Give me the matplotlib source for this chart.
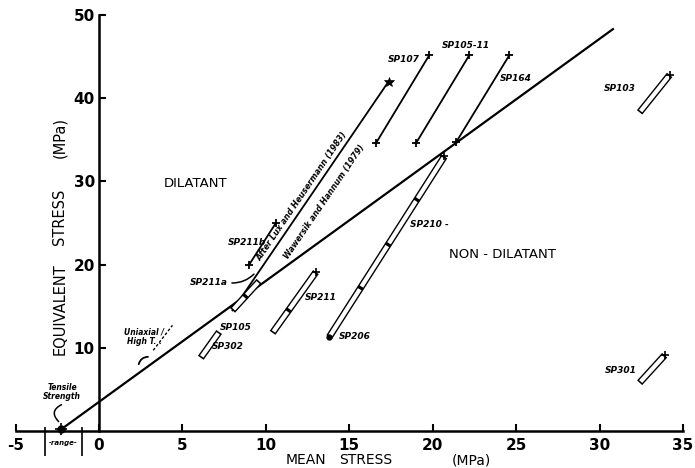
import numpy as np
import matplotlib
matplotlib.use('Agg')
import matplotlib.pyplot as plt

# ---------------- data ----------------
boundary_x = [-2.2, 30.8]
boundary_y = [0.3, 48.3]

# single test paths (start -> end)
path_names = ['SP107', 'SP105-11', 'SP164', 'SP211b', 'Lux & Heusermann']
path_x0 = [16.6, 19.0, 21.4, 9.0, 8.0]
path_y0 = [34.6, 34.6, 34.7, 20.0, 14.5]
path_x1 = [19.8, 22.2, 24.6, 10.6, 17.35]
path_y1 = [45.2, 45.2, 45.2, 25.0, 42.0]

# double-line (tube) paths
tube_names = ['SP103', 'SP301', 'SP211', 'SP206-SP210', 'SP105-SP302', 'Lux tube']
tube_x0 = [32.4, 32.4, 10.4, 13.8, 6.1, 8.0]
tube_y0 = [38.3, 5.8, 11.8, 11.3, 8.8, 14.5]
tube_x1 = [34.2, 33.9, 13.0, 20.7, 7.2, 9.6]
tube_y1 = [42.8, 9.1, 19.1, 33.0, 11.9, 18.0]
tube_seps = [[], [], [14.5], [17.2, 22.4, 27.8], [], [16.2]]

label_text = ['SP107', 'SP105-11', 'SP164', 'SP103', 'SP301', 'SP210 -', 'SP206',
              'SP211', 'SP211b', 'SP211a', 'SP105', 'SP302']
label_x = [18.25, 22.0, 25.0, 31.2, 31.25, 19.8, 15.3, 13.3, 8.85, 6.6, 8.2, 7.7]
label_y = [44.7, 46.3, 42.4, 41.2, 7.3, 24.8, 11.3, 16.1, 22.7, 17.8, 12.4, 10.1]

xticks = [-5, 0, 5, 10, 15, 20, 25, 30, 35]
yticks = [10, 20, 30, 40, 50]

tensile_x, tensile_y = -2.3, 0.25
range_lo, range_hi = -3.25, -1.0

# ---------------- figure ----------------
fig = plt.figure(figsize=(6.95, 4.68), dpi=100)
ax = fig.add_axes([15.6/695, 37/468, 667.4/695, 416/468])
ax.set_xlim(-5, 35)
ax.set_ylim(0, 50)

for s in ['top', 'right']:
    ax.spines[s].set_visible(False)
ax.spines['left'].set_position(('data', 0))
ax.spines['left'].set_linewidth(1.8)
ax.spines['bottom'].set_linewidth(1.8)

ax.set_xticks(xticks)
ax.set_xticklabels([str(v) for v in xticks], fontsize=11, fontweight='bold')
ax.set_yticks(yticks)
ax.set_yticklabels([str(v) for v in yticks], fontsize=11, fontweight='bold')
ax.tick_params(axis='x', direction='in', length=5, width=1.5, pad=5)
ax.tick_params(axis='y', direction='in', length=5, width=1.5, pad=3)

bi = dict(fontsize=6.5, fontweight='bold', fontstyle='italic', color='k')

# boundary line
ax.plot(boundary_x, boundary_y, color='k', lw=1.6)

# single paths
for x0, y0, x1, y1, nm in zip(path_x0, path_y0, path_x1, path_y1, path_names):
    ax.plot([x0, x1], [y0, y1], color='k', lw=1.3)
    if nm.startswith('Lux'):
        ax.plot([x1], [y1], marker='*', ms=7, color='k', mew=0.5)
    else:
        ax.plot([x0, x1], [y0, y1], ls='none', marker='+', ms=6, mew=1.3, color='k')


def tube(x0, y0, x1, y1, seps, outer=5.0, inner=3.0):
    ax.plot([x0, x1], [y0, y1], color='k', lw=outer, solid_capstyle='butt')
    p0 = ax.transData.transform((x0, y0))
    p1 = ax.transData.transform((x1, y1))
    L = np.hypot(*(p1 - p0))
    g = 1.6 / L
    ts = [0.0] + [(s - y0) / (y1 - y0) for s in seps] + [1.0]
    for a, b in zip(ts[:-1], ts[1:]):
        a2, b2 = a + g, b - g
        ax.plot([x0 + a2 * (x1 - x0), x0 + b2 * (x1 - x0)],
                [y0 + a2 * (y1 - y0), y0 + b2 * (y1 - y0)],
                color='white', lw=inner, solid_capstyle='butt')


for x0, y0, x1, y1, sp in zip(tube_x0, tube_y0, tube_x1, tube_y1, tube_seps):
    tube(x0, y0, x1, y1, sp)

# end markers for tubes
ax.plot([tube_x1[0], tube_x1[1], tube_x1[3], tube_x1[2]],
        [tube_y1[0], tube_y1[1], tube_y1[3], tube_y1[2]],
        ls='none', marker='+', ms=6, mew=1.2, color='k')
ax.plot([tube_x0[3]], [tube_y0[3]], marker='o', ms=3.5, color='k')

# SP211a curve
ax.annotate('', xy=(9.4, 19.1), xytext=(7.8, 17.8),
            arrowprops=dict(arrowstyle='-', color='k', lw=1.1,
                            connectionstyle='arc3,rad=0.25'))

# labels
for t, x, y in zip(label_text, label_x, label_y):
    ax.text(x, y, t, ha='center', va='center', **bi)

# rotated reference text along Lux line
p0 = ax.transData.transform((path_x0[4], path_y0[4]))
p1 = ax.transData.transform((path_x1[4], path_y1[4]))
ang = np.degrees(np.arctan2(p1[1] - p0[1], p1[0] - p0[0]))
xm, ym = 12.5, path_y0[4] + (12.5 - path_x0[4]) * (path_y1[4] - path_y0[4]) / (path_x1[4] - path_x0[4])
a = np.radians(ang)
for txt, d in [('After Lux and Heusermann (1983)', 4.5),
               ('Wawersik and Hannum (1979)', -6.0)]:
    ax.annotate(txt, xy=(xm + (0.6 if d < 0 else 0), ym + (0.4 if d < 0 else 0)),
                xytext=(-np.sin(a) * d, np.cos(a) * d), textcoords='offset points',
                rotation=ang, rotation_mode='anchor', ha='center', va='center',
                fontsize=5.8, fontweight='bold', fontstyle='italic')

# region texts
ax.text(5.8, 29.8, 'DILATANT', ha='center', va='center', fontsize=9.5)
ax.text(24.2, 21.2, 'NON - DILATANT', ha='center', va='center', fontsize=9.5)

# Uniaxial / High T
ax.text(2.7, 11.3, 'Uniaxial /\nHigh T. .', ha='center', va='center',
        fontsize=5.5, fontweight='bold', fontstyle='italic', linespacing=1.1)
ax.plot([3.25, 4.4], [9.7, 12.7], color='k', lw=1.0, ls=(0, (2, 1.5)))
ax.annotate('', xy=(3.1, 8.9), xytext=(2.35, 7.7),
            arrowprops=dict(arrowstyle='-', color='k', lw=1.3,
                            connectionstyle='arc3,rad=-0.5'))

# tensile strength
ax.plot([tensile_x], [tensile_y], marker='o', ms=5, color='k', clip_on=False, zorder=5)
ax.plot([tensile_x], [tensile_y], marker='+', ms=9, mew=1.2, color='k', clip_on=False, zorder=5)
ax.text(-2.2, 4.7, 'Tensile\nStrength', ha='center', va='center',
        fontsize=5.5, fontweight='bold', fontstyle='italic', linespacing=1.1)
ax.annotate('', xy=(tensile_x, 0.9), xytext=(-2.1, 3.3),
            arrowprops=dict(arrowstyle='-', color='k', lw=1.1,
                            connectionstyle='arc3,rad=0.8'))
ax.vlines([range_lo, range_hi], -3.0, 0.5, color='k', lw=1.2, clip_on=False)
ax.text((range_lo + range_hi) / 2, -1.4, '-range-', ha='center', va='center',
        fontsize=5, fontweight='bold', fontstyle='italic', clip_on=False)

# axis labels
ax.text(12.4, -3.5, 'MEAN', ha='center', va='center', fontsize=10, clip_on=False)
ax.text(16.0, -3.5, 'STRESS', ha='center', va='center', fontsize=10, clip_on=False)
ax.text(22.3, -3.5, '(MPa)', ha='center', va='center', fontsize=10, clip_on=False)
ax.text(-2.35, 14.7, 'EQUIVALENT', ha='center', va='center', rotation=90, fontsize=10.5, clip_on=False)
ax.text(-2.35, 25.7, 'STRESS', ha='center', va='center', rotation=90, fontsize=10.5, clip_on=False)
ax.text(-2.35, 35.3, '(MPa)', ha='center', va='center', rotation=90, fontsize=10.5, clip_on=False)

fig.savefig('out.png', dpi=100)
